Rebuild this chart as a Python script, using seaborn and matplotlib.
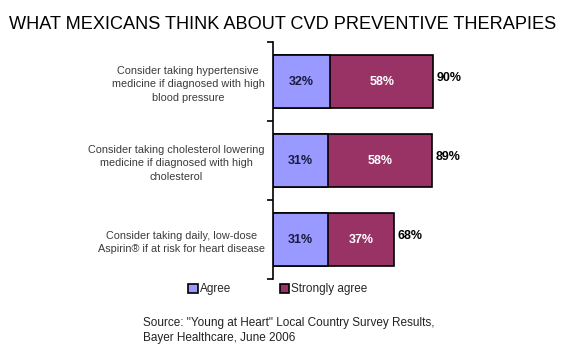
import matplotlib
matplotlib.use("Agg")
import matplotlib.pyplot as plt
import matplotlib.patches as mpatches
import pandas as pd
import seaborn as sns

categories = [
    "Consider taking hypertensive\nmedicine if diagnosed with high\nblood pressure",
    "Consider taking cholesterol lowering\nmedicine if diagnosed with high\ncholesterol",
    "Consider taking daily, low-dose\nAspirin\u00ae if at risk for heart disease",
]
agree = [32, 31, 31]
strongly_agree = [58, 58, 37]
series_names = ["Agree", "Strongly agree"]

title = "WHAT MEXICANS THINK ABOUT CVD PREVENTIVE THERAPIES"
source = "Source: \"Young at Heart\" Local Country Survey Results,\nBayer Healthcare, June 2006"

df = pd.DataFrame({"category": categories, "agree": agree, "strong": strongly_agree})
df["total"] = df["agree"] + df["strong"]

sns.set_theme(style="white")
plt.rcParams["font.family"] = ["Liberation Sans", "DejaVu Sans"]

agree_color = "#9999ff"
strong_color = "#993366"

fig = plt.figure(figsize=(5.66, 3.52), dpi=100)
ax = fig.add_axes([0.4823, 0.2074, 0.315, 0.673])

sns.barplot(data=df, y="category", x="total", orient="h", color=strong_color,
            saturation=1, width=0.67, edgecolor="black", linewidth=1.2, ax=ax)
sns.barplot(data=df, y="category", x="agree", orient="h", color=agree_color,
            saturation=1, width=0.67, edgecolor="black", linewidth=1.2, ax=ax)

ax.set_xlim(0, 100)
ax.set_ylim(2.5, -0.5)
ax.set_xlabel("")
ax.set_ylabel("")
ax.set_xticks([])
for s in ["top", "right", "bottom"]:
    ax.spines[s].set_visible(False)
ax.spines["left"].set_color("black")
ax.spines["left"].set_linewidth(1.2)

# category labels
ax.set_yticks(range(len(categories)))
ax.set_yticklabels(categories, fontsize=7.8, color="#3a3a3a",
                   multialignment="center", linespacing=1.45)
ax.tick_params(axis="y", which="major", length=0, pad=6)
ax.set_yticks([-0.5, 0.5, 1.5, 2.5], minor=True)
ax.tick_params(axis="y", which="minor", length=4, width=1.2, color="black", left=True)

for i, (a, s, t) in enumerate(zip(df["agree"], df["strong"], df["total"])):
    ax.text(a / 2, i, f"{a}%", ha="center", va="center", fontsize=9,
            fontweight="bold", color="#1a1a40")
    ax.text(a + s / 2, i, f"{s}%", ha="center", va="center", fontsize=9,
            fontweight="bold", color="white")
    ax.text(t + 2, i - 0.04, f"{t}%", ha="left", va="center",
            fontsize=9, fontweight="bold", color="black")

handles = [mpatches.Patch(facecolor=c, edgecolor="black", linewidth=1.2)
           for c in [agree_color, strong_color]]
fig.legend(handles, series_names, loc="center", bbox_to_anchor=(0.491, 0.178),
           ncol=2, frameon=False, fontsize=8.5, handlelength=0.8, handleheight=0.8,
           handletextpad=0.2, columnspacing=4.1)

fig.text(0.5, 0.93, title, ha="center", va="center", fontsize=13.1,
         color="black")
fig.text(0.253, 0.06, source, ha="left", va="center", fontsize=8.5,
         color="#222222", linespacing=1.35)

fig.savefig("out.png", dpi=100)
